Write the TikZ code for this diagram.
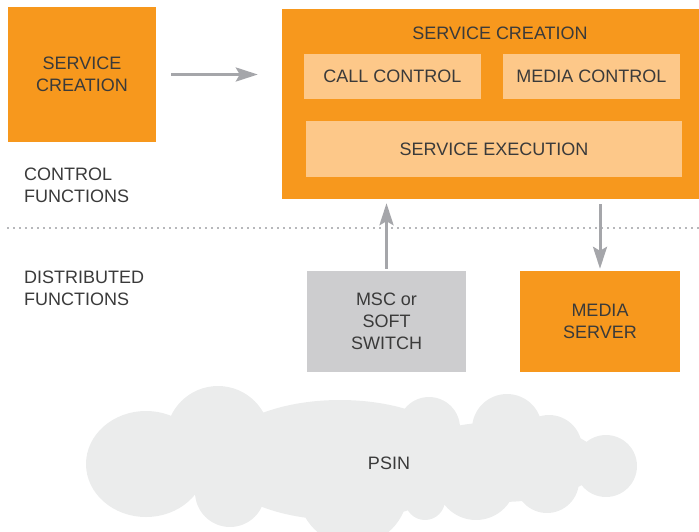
\documentclass[tikz,border=0pt]{standalone}
\usepackage{fontspec}
\setmainfont{Liberation Sans}
\usepackage{xcolor}
\usetikzlibrary{positioning,arrows.meta}
\definecolor{boxorange}{RGB}{247,152,29}
\definecolor{paleorange}{RGB}{253,200,137}
\definecolor{boxgray}{RGB}{205,205,207}
\definecolor{cloudgray}{RGB}{235,236,236}
\definecolor{arrowgray}{RGB}{165,166,170}
\definecolor{textgray}{RGB}{58,58,58}

\begin{document}
\begin{tikzpicture}[x=1pt, y=-1pt,
  every node/.style={text=textgray, font=\fontsize{18}{22}\selectfont, inner sep=0pt},
  block/.style={fill=boxorange, align=center},
  subblock/.style={fill=paleorange, align=center},
  grayblock/.style={fill=boxgray, align=center},
  link/.style={arrowgray, line width=3pt, -{Stealth[length=22pt, width=14pt, inset=4pt]}},
  divider/.style={arrowgray!80, line width=2pt, dash pattern=on 2pt off 4pt}]
\useasboundingbox (0,0) rectangle (699,531);

% control functions
\node[block, minimum width=148pt, minimum height=135pt] (sc_left) at (82,74.5) {SERVICE\\CREATION};
\node[block, minimum width=417pt, minimum height=190pt] (sc_main) at (490.5,104) {};
\node (sc_title) at (500,33) {SERVICE CREATION};
\node[subblock, minimum width=177pt, minimum height=45pt] (call_ctrl) at (392.5,76.5) {CALL CONTROL};
\node[subblock, minimum width=177pt, minimum height=45pt] (media_ctrl) at (591.5,76.5) {MEDIA CONTROL};
\node[subblock, minimum width=376pt, minimum height=56pt] (svc_exec) at (494,149) {SERVICE EXECUTION};
\node[align=left, anchor=west] (ctrl_lbl) at (24,185) {CONTROL\\FUNCTIONS};

\draw[divider] (7,228) -- (699,228);

% distributed functions
\node[align=left, anchor=west] (dist_lbl) at (24,288) {DISTRIBUTED\\FUNCTIONS};
\node[grayblock, minimum width=159pt, minimum height=101pt] (msc) at (386.5,321.5) {MSC or\\SOFT\\SWITCH};
\node[block, minimum width=160pt, minimum height=101pt] (media_srv) at (600,321.5) {MEDIA\\SERVER};

\draw[link, shorten <=15pt, shorten >=24pt] (sc_left.east) -- (sc_left.east -| sc_main.west);
\draw[link, shorten <=2pt, shorten >=4pt] (msc.north) -- (msc.north |- sc_main.south);
\draw[link, shorten <=5pt, shorten >=2pt] (media_srv.north |- sc_main.south) -- (media_srv.north);

% cloud
\begin{scope}
\clip (0,0) rectangle (699,531);
\fill[cloudgray] (146,464) ellipse [x radius=60pt, y radius=53pt]
  (218,438) circle [radius=52pt]
  (340,460) ellipse [x radius=125pt, y radius=60pt]
  (500,462) ellipse [x radius=100pt, y radius=40pt]
  (429,428) circle [radius=31pt]
  (507,429) circle [radius=35pt]
  (549,448) circle [radius=33pt]
  (606,466) circle [radius=31pt]
  (230,492) circle [radius=35pt]
  (353,490) circle [radius=55pt]
  (425,500) circle [radius=20pt]
  (476,480) circle [radius=40pt]
  (547,481) circle [radius=32pt];
\end{scope}
\node (psin) at (389,463) {PSIN};

\end{tikzpicture}
\end{document}
